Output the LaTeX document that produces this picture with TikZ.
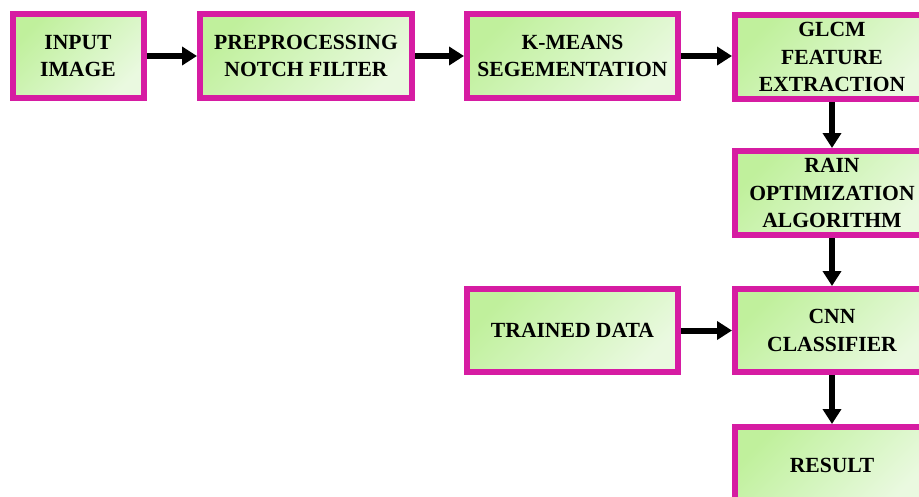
\documentclass[tikz,border=0pt]{standalone}
\usepackage{fontspec}
\setmainfont{Liberation Serif}
\usetikzlibrary{arrows.meta}
\definecolor{frame}{RGB}{214,28,162}
\definecolor{greenA}{RGB}{192,240,156}
\definecolor{greenM}{RGB}{212,245,190}
\definecolor{greenB}{RGB}{234,249,224}
\tikzset{
  stage/.style={draw=frame, line width=6pt, inner sep=0pt, align=center,
    top color=greenA, bottom color=greenB, middle color=greenM, shading angle=45,
    font=\fontsize{21.6}{27.5}\selectfont\bfseries, text=black},
  flow/.style={line width=6pt, -{Triangle[length=15pt,width=18pt]}}
}
\begin{document}
\begin{tikzpicture}[x=1pt,y=-1pt]
\useasboundingbox (0,0) rectangle (919,496);
\clip (0,0) rectangle (919,496);
% top row
\node[stage, minimum width=131pt, minimum height=84pt] (input) at (78,56) {INPUT\\IMAGE};
\node[stage, minimum width=212pt, minimum height=84pt] (pre) at (306,56) {PREPROCESSING\\NOTCH FILTER};
\node[stage, minimum width=211pt, minimum height=84pt] (kmeans) at (572.5,56) {K-MEANS\\SEGEMENTATION};
\node[stage, minimum width=194pt, minimum height=84pt] (glcm) at (832,57) {GLCM\\FEATURE\\EXTRACTION};
% right column
\node[stage, minimum width=194pt, minimum height=84pt] (rain) at (832,193) {RAIN\\OPTIMIZATION\\ALGORITHM};
\node[stage, minimum width=194pt, minimum height=83pt] (cnn) at (832,330.5) {CNN\\CLASSIFIER};
\node[stage, minimum width=211pt, minimum height=83pt] (trained) at (572.5,330.5) {TRAINED DATA};
\node[stage, minimum width=194pt, minimum height=76pt] (result) at (832,465) {RESULT};
% connectors
\draw[flow] (input) -- (pre);
\draw[flow] (pre) -- (kmeans);
\draw[flow] (kmeans) -- (glcm.west |- kmeans.east);
\draw[flow] (glcm) -- (rain);
\draw[flow] (rain) -- (cnn);
\draw[flow] (trained) -- (cnn);
\draw[flow] (cnn) -- (result);
\end{tikzpicture}
\end{document}
